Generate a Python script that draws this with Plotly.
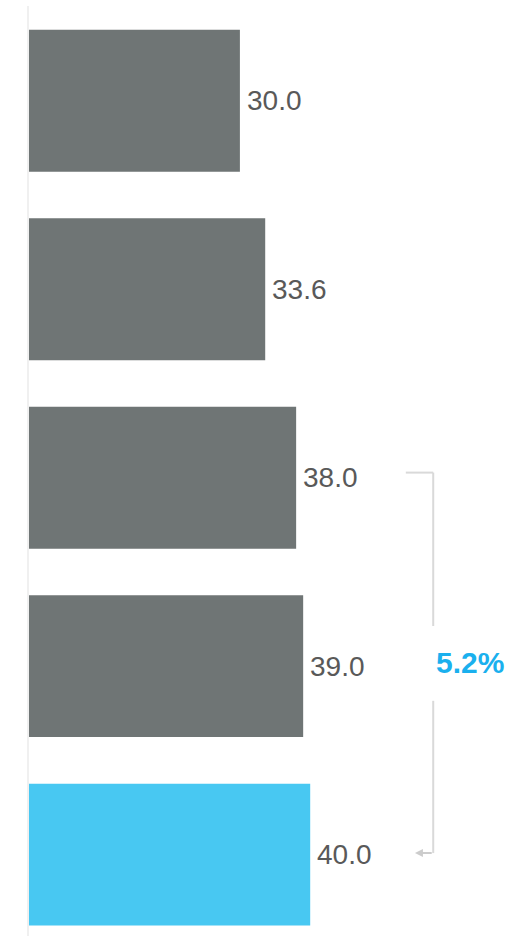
import plotly.graph_objects as go

categories = ["A", "B", "C", "D", "E"]
values = [30.0, 33.6, 38.0, 39.0, 40.0]
bar_colors = ["#6f7575", "#6f7575", "#6f7575", "#6f7575", "#48c8f2"]
change_label = "5.2%"

pos = list(range(len(categories)))

fig = go.Figure()
fig.add_trace(go.Bar(
    x=values, y=pos, orientation="h",
    marker=dict(color=bar_colors, line=dict(width=0)),
    width=0.753, hoverinfo="skip",
))

annotations = []
for p, v in zip(pos, values):
    annotations.append(dict(
        x=v, y=p, xref="x", yref="y", text=f"{v:.1f}", showarrow=False,
        xanchor="left", yanchor="middle", xshift=5,
        font=dict(family="Liberation Sans, Arial, sans-serif", size=28, color="#595959"),
    ))

# bracket between bar 2 and bar 4
bx0, bx1, bx_arrow = 53.6, 57.5, 54.9
y_top, y_bot = 2 - 0.027, 4 - 0.008
gap_top, gap_bot = 2.787, 3.184
line_style = dict(color="#d9d9d9", width=2)
shapes = [
    dict(type="line", xref="x", yref="y", x0=bx0, x1=bx1, y0=y_top, y1=y_top, line=line_style),
    dict(type="line", xref="x", yref="y", x0=bx1, x1=bx1, y0=y_top, y1=gap_top, line=line_style),
    dict(type="line", xref="x", yref="y", x0=bx1, x1=bx1, y0=gap_bot, y1=y_bot, line=line_style),
]
annotations.append(dict(
    x=bx_arrow, y=y_bot, ax=bx1, ay=y_bot, xref="x", yref="y", axref="x", ayref="y",
    text="", showarrow=True, arrowhead=2, arrowsize=0.8, arrowwidth=2, arrowcolor="#cccccc",
))
annotations.append(dict(
    x=62.7, y=2.98, xref="x", yref="y", text=f"<b>{change_label}</b>", showarrow=False,
    xanchor="center", yanchor="middle",
    font=dict(family="Liberation Sans, Arial, sans-serif", size=30, color="#1ab0ee"),
))

fig.update_layout(
    width=527, height=936,
    margin=dict(l=29, r=0, t=6, b=0),
    paper_bgcolor="white", plot_bgcolor="white",
    showlegend=False,
    xaxis=dict(range=[0, 70.84], visible=False, fixedrange=True),
    yaxis=dict(range=[4.432, -0.503], showgrid=False, zeroline=False, showticklabels=False,
               showline=True, linecolor="#f0f0f0", linewidth=2, ticks="", fixedrange=True),
    shapes=shapes, annotations=annotations,
)
fig.write_html("out.html", config={"displayModeBar": False},
               post_script="document.body.style.margin='0';document.body.style.overflow='hidden';")
